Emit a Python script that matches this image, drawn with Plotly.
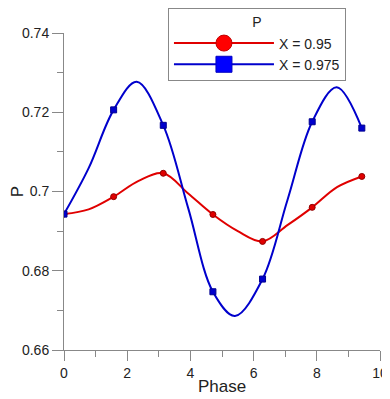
import numpy as np
import plotly.graph_objects as go

PI = np.pi
# marker data
phase = [0, PI/2, PI, 3*PI/2, 2*PI, 5*PI/2, 3*PI]
p_095 = [0.6943, 0.6987, 0.7046, 0.6942, 0.6874, 0.6960, 0.7038]
p_0975 = [0.6943, 0.7206, 0.7167, 0.6747, 0.6779, 0.7176, 0.7160]

# the continuous curves at more phases
curve_phase_095 = [0, 0.78, PI/2, 2.36, PI, 3.93, 3*PI/2, 5.5, 2*PI, 7.07, 5*PI/2, 8.64, 3*PI]
curve_095 = [0.6943, 0.6955, 0.6987, 0.7027, 0.7046, 0.6995, 0.6942, 0.6900, 0.6874, 0.6915, 0.6960, 0.7011, 0.7038]
curve_phase_0975 = [0, 0.78, PI/2, 2.30, PI, 3.93, 3*PI/2, 5.41, 2*PI, 7.07, 5*PI/2, 8.63, 3*PI]
curve_0975 = [0.6943, 0.7059, 0.7206, 0.7277, 0.7167, 0.6958, 0.6747, 0.6686, 0.6779, 0.6978, 0.7176, 0.7263, 0.7160]

names = ["X = 0.95", "X = 0.975"]
red, blue = "#e00000", "#0000cc"

fig = go.Figure()
for cx, cy, mx, my, col, sym, edge in [
        (curve_phase_095, curve_095, phase, p_095, red, "circle", "#900000"),
        (curve_phase_0975, curve_0975, phase, p_0975, blue, "square", "#000090")]:
    fig.add_trace(go.Scatter(x=cx, y=cy, mode="lines", line=dict(color=col, width=2, shape="spline", smoothing=1.0),
                             showlegend=False, hoverinfo="skip"))
    fig.add_trace(go.Scatter(x=mx, y=my, mode="markers", showlegend=False,
                             marker=dict(symbol=sym, size=6, color=col, line=dict(color=edge, width=1))))

# legend entries
fig.add_trace(go.Scatter(x=[None], y=[None], mode="lines+markers", name=names[0], line=dict(color=red, width=2),
                         marker=dict(symbol="circle", size=16, color="#ff0000", line=dict(color="#c00000", width=1))))
fig.add_trace(go.Scatter(x=[None], y=[None], mode="lines+markers", name=names[1], line=dict(color=blue, width=2),
                         marker=dict(symbol="square", size=16, color="#0000ff", line=dict(color="#0000c0", width=1))))

axcol = "#888"
fig.update_layout(
    width=382, height=391,
    margin=dict(l=56, r=10, t=25, b=49, autoexpand=False),
    paper_bgcolor="white", plot_bgcolor="white",
    font=dict(family="Liberation Sans, Arial", size=14, color="#222"),
    legend=dict(x=0.329, y=1.078, xanchor="left", yanchor="top", bordercolor="#888", borderwidth=1,
                bgcolor="white", font=dict(size=14), itemsizing="trace", itemwidth=100,
                title=dict(text="P", side="top center", font=dict(size=14))),
    xaxis=dict(range=[0, 10], dtick=2, ticks="outside", ticklen=10, tickcolor=axcol, showline=True, linecolor=axcol,
               showgrid=False, zeroline=False, automargin=False, title=dict(text="Phase", standoff=0),
               minor=dict(dtick=1, ticks="outside", ticklen=6, tickcolor=axcol)),
    yaxis=dict(range=[0.66, 0.74], dtick=0.02, ticks="outside", ticklen=11, tickcolor=axcol, showline=True, linecolor=axcol,
               showgrid=False, zeroline=False, automargin=False, title=dict(text="P", standoff=0),
               minor=dict(dtick=0.01, ticks="outside", ticklen=6, tickcolor=axcol)),
)
fig.write_html("out.html")
